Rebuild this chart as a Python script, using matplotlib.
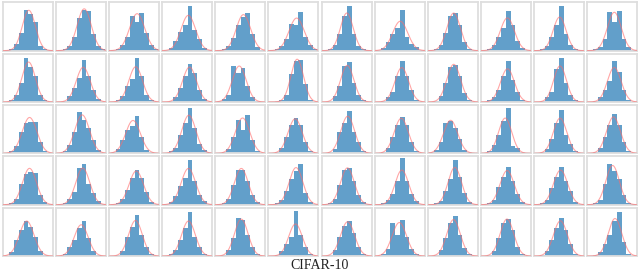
import numpy as np
import matplotlib
matplotlib.use("Agg")
import matplotlib.pyplot as plt

# histogram bin heights (relative units) for each of the 5x12 panels
row1 = [
    [1, 3, 15, 38, 88, 78, 62, 10, 4, 1],
    [1, 3, 10, 30, 70, 88, 85, 35, 10, 3],
    [1, 4, 12, 30, 75, 62, 80, 38, 12, 3],
    [1, 5, 20, 40, 55, 95, 45, 25, 5, 1],
    [1, 3, 10, 28, 55, 72, 80, 35, 8, 2],
    [1, 4, 10, 25, 58, 55, 82, 30, 12, 3],
    [1, 4, 12, 35, 75, 95, 35, 10, 3, 1],
    [1, 5, 18, 35, 48, 88, 30, 15, 8, 2],
    [1, 3, 12, 38, 75, 80, 55, 18, 4, 1],
    [1, 4, 12, 30, 48, 85, 55, 20, 5, 1],
    [1, 3, 10, 30, 55, 95, 35, 12, 3, 1],
    [1, 3, 8, 25, 82, 62, 85, 25, 8, 2],
]
row2 = [
    [1, 5, 15, 40, 95, 75, 55, 15, 4, 1],
    [1, 3, 12, 30, 52, 90, 55, 25, 6, 1],
    [1, 4, 12, 35, 50, 95, 55, 15, 5, 1],
    [1, 3, 10, 30, 55, 82, 62, 25, 6, 1],
    [2, 6, 15, 78, 62, 72, 35, 10, 3, 1],
    [1, 2, 5, 15, 60, 88, 90, 38, 5, 1],
    [1, 3, 12, 35, 78, 85, 40, 15, 5, 1],
    [1, 3, 10, 22, 55, 88, 55, 25, 5, 1],
    [1, 3, 12, 40, 75, 80, 55, 20, 5, 1],
    [1, 4, 10, 25, 55, 88, 48, 22, 5, 1],
    [1, 3, 10, 22, 70, 95, 40, 15, 4, 1],
    [1, 3, 10, 25, 45, 88, 65, 25, 5, 1],
]
row3 = [
    [1, 4, 15, 45, 65, 68, 68, 25, 6, 1],
    [1, 5, 18, 45, 88, 72, 55, 28, 8, 1],
    [2, 10, 28, 50, 58, 80, 35, 8, 3, 1],
    [1, 4, 12, 40, 65, 97, 55, 20, 8, 2],
    [1, 3, 10, 35, 72, 50, 82, 28, 6, 1],
    [1, 3, 12, 35, 60, 75, 60, 25, 5, 1],
    [1, 3, 10, 45, 65, 90, 45, 25, 5, 1],
    [1, 3, 12, 35, 60, 78, 60, 25, 5, 1],
    [2, 8, 25, 65, 70, 55, 30, 8, 2, 1],
    [1, 4, 18, 40, 70, 97, 15, 12, 3, 1],
    [1, 3, 10, 30, 65, 92, 40, 20, 5, 1],
    [1, 3, 12, 35, 60, 85, 60, 25, 5, 1],
]
row4 = [
    [1, 3, 12, 45, 65, 70, 68, 20, 5, 1],
    [1, 4, 12, 28, 78, 88, 45, 25, 8, 1],
    [1, 3, 12, 32, 58, 75, 58, 28, 6, 1],
    [1, 5, 18, 40, 58, 97, 50, 20, 8, 1],
    [1, 3, 12, 42, 75, 75, 50, 20, 5, 1],
    [1, 3, 10, 30, 55, 72, 88, 25, 5, 1],
    [1, 3, 12, 42, 75, 78, 50, 20, 5, 1],
    [1, 3, 10, 22, 50, 100, 50, 22, 8, 1],
    [1, 3, 8, 30, 55, 95, 60, 25, 5, 1],
    [1, 3, 10, 38, 60, 80, 50, 22, 6, 1],
    [1, 3, 10, 35, 60, 82, 50, 30, 6, 1],
    [1, 3, 10, 45, 88, 72, 55, 20, 4, 1],
]
row5 = [
    [1, 8, 35, 55, 75, 62, 40, 10, 3, 1],
    [1, 4, 20, 35, 60, 75, 38, 10, 3, 1],
    [1, 3, 10, 40, 62, 88, 45, 20, 5, 1],
    [1, 4, 12, 35, 60, 95, 40, 20, 5, 1],
    [1, 3, 12, 38, 82, 78, 45, 20, 5, 1],
    [1, 3, 10, 25, 40, 97, 45, 20, 5, 1],
    [1, 3, 12, 40, 65, 75, 50, 20, 5, 1],
    [1, 4, 15, 70, 45, 78, 40, 15, 4, 1],
    [1, 3, 12, 38, 72, 85, 45, 18, 5, 1],
    [1, 3, 10, 38, 72, 80, 55, 20, 5, 1],
    [1, 3, 10, 35, 60, 82, 55, 25, 5, 1],
    [1, 3, 8, 25, 45, 75, 95, 30, 5, 1],
]
rows = [row1, row2, row3, row4, row5]
title = "CIFAR-10"

bin_left = 0.03
bin_w = 0.095

fig, axes = plt.subplots(5, 12, figsize=(6.4, 2.73), dpi=100)
fig.subplots_adjust(left=0.005, right=0.995, top=0.992, bottom=0.062,
                    wspace=0.06, hspace=0.06)

for r, row in enumerate(rows):
    for c, h in enumerate(row):
        ax = axes[r, c]
        h = np.array(h, dtype=float)
        centers = bin_left + bin_w * (np.arange(len(h)) + 0.5)
        ax.bar(centers, h, width=bin_w, color='#1f77b4', alpha=0.7,
               edgecolor='none', linewidth=0, zorder=2)
        w = h / h.sum()
        mu = (w * centers).sum()
        sd = np.sqrt((w * (centers - mu) ** 2).sum() + bin_w ** 2 / 12)
        xs = np.linspace(0, 1, 200)
        area = h.sum() * bin_w
        ys = area / (sd * np.sqrt(2 * np.pi)) * np.exp(-0.5 * ((xs - mu) / sd) ** 2)
        ax.plot(xs, ys, color='#ff6b6b', alpha=0.6, linewidth=0.8, zorder=3)
        ax.set_xlim(0, 1)
        ax.set_ylim(0, 104)
        ax.set_xticks([])
        ax.set_yticks([])
        for s in ax.spines.values():
            s.set_color('#dedede')
            s.set_linewidth(1.3)

fig.text(0.5, 0.028, title, ha='center', va='center',
         family='Liberation Serif', fontsize=10, color='#222222')

fig.savefig("out.png", dpi=100, facecolor='white')
